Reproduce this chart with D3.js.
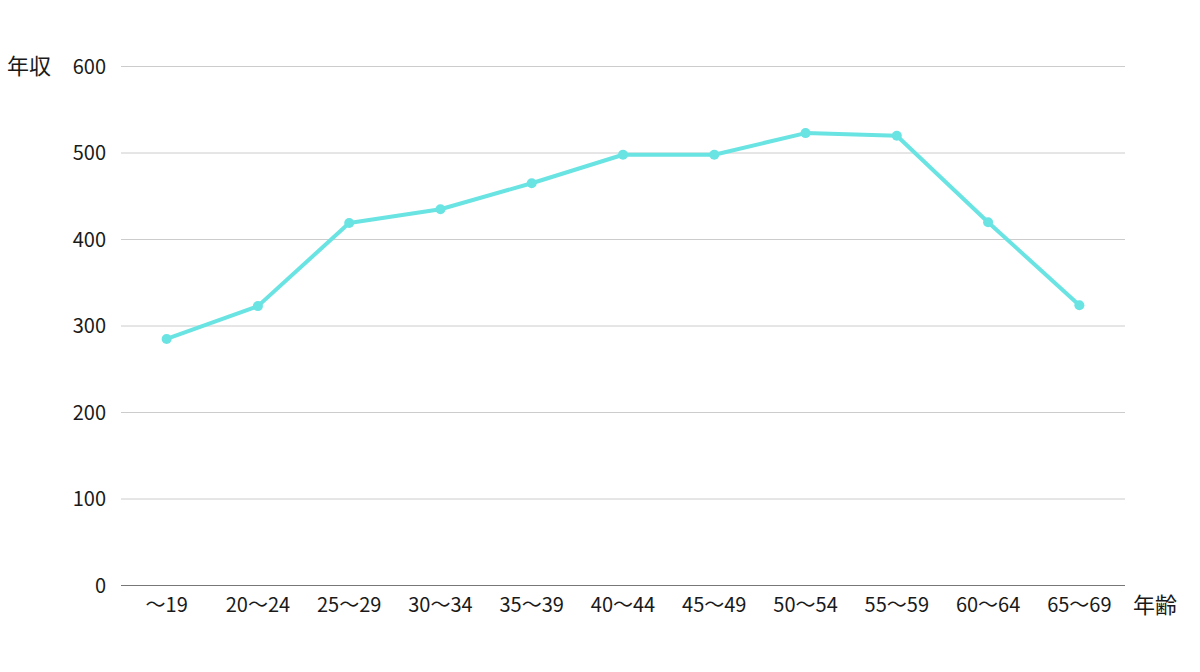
<!DOCTYPE html>
<html><head><meta charset="utf-8">
<script src="https://cdn.jsdelivr.net/npm/d3@7"></script>
<style>
html,body{margin:0;padding:0;background:#fff;}
svg text{font-family:"Noto Sans CJK JP","Noto Sans",sans-serif;fill:#1a1a1a;}
</style></head>
<body>
<svg id="chart" width="1200" height="672"></svg>
<script>
const categories = ["～19","20～24","25～29","30～34","35～39","40～44","45～49","50～54","55～59","60～64","65～69"];
const values = [285, 323, 419, 435, 465, 498, 498, 523, 520, 420, 324];
const yTicks = [0, 100, 200, 300, 400, 500, 600];
const yLabel = "年収";
const xLabel = "年齢";

const svg = d3.select("#chart");
const m = {left:121, right:1125, top:66.5, bottom:585.5};
const x = d3.scaleBand().domain(categories).range([m.left, m.right]);
const y = d3.scaleLinear().domain([0, 600]).range([m.bottom, m.top]);

// gridlines
svg.append("g").selectAll("line").data(yTicks.filter(d => d > 0)).join("line")
  .attr("x1", m.left).attr("x2", m.right)
  .attr("y1", d => y(d)).attr("y2", d => y(d))
  .attr("stroke", "#cccccc").attr("stroke-width", 1);

// x axis baseline
svg.append("line").attr("x1", m.left).attr("x2", m.right)
  .attr("y1", y(0)).attr("y2", y(0)).attr("stroke", "#777").attr("stroke-width", 1);

// y tick labels
svg.append("g").selectAll("text").data(yTicks).join("text")
  .attr("x", 106).attr("y", d => y(d)).attr("dy", "0.35em")
  .attr("text-anchor", "end").attr("font-size", 20).text(d => d);

// x tick labels
svg.append("g").selectAll("text").data(categories).join("text")
  .attr("x", d => x(d) + x.bandwidth()/2).attr("y", 605).attr("dy", "0.35em")
  .attr("text-anchor", "middle").attr("font-size", 20).text(d => d);

// axis titles
svg.append("text").attr("x", 7).attr("y", y(600)).attr("dy", "0.35em")
  .attr("font-size", 22).text(yLabel);
svg.append("text").attr("x", 1133).attr("y", 605).attr("dy", "0.35em")
  .attr("font-size", 22).text(xLabel);

const color = "#6ae3e3";
const line = d3.line().x((d,i) => x(categories[i]) + x.bandwidth()/2).y(d => y(d));
svg.append("path").datum(values).attr("d", line)
  .attr("fill", "none").attr("stroke", color).attr("stroke-width", 4)
  .attr("stroke-linejoin", "round");
svg.append("g").selectAll("circle").data(values).join("circle")
  .attr("cx", (d,i) => x(categories[i]) + x.bandwidth()/2)
  .attr("cy", d => y(d)).attr("r", 5).attr("fill", color);
</script>
</body></html>
